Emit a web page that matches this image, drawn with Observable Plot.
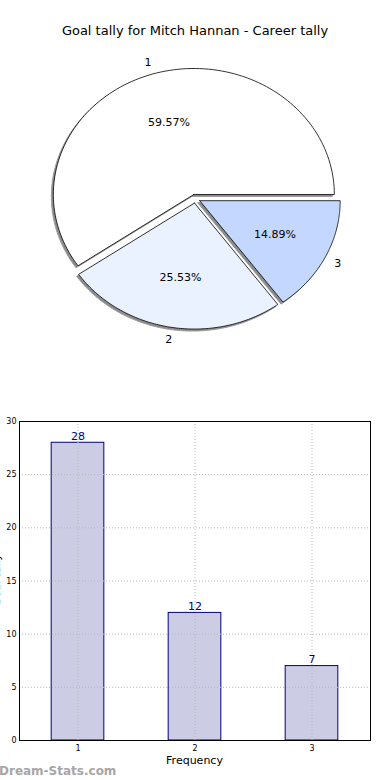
<!DOCTYPE html>
<html>
<head>
<meta charset="utf-8">
<script src="https://cdn.jsdelivr.net/npm/d3@7"></script>
<script src="https://cdn.jsdelivr.net/npm/@observablehq/plot@0.6"></script>
<style>
  html, body { margin: 0; padding: 0; background: #fff; }
  #wrap { position: relative; width: 390px; height: 780px; overflow: hidden; font-family: "DejaVu Sans", sans-serif; }
  #wrap svg { position: absolute; left: 0; }
  .abs { position: absolute; white-space: nowrap; }
</style>
</head>
<body>
<div id="wrap"></div>
<script>
// ---- data ----
const title = "Goal tally for Mitch Hannan - Career tally";
const categories = [1, 2, 3];
const goals = [28, 12, 7];
const sliceColors = ["#ffffff", "#eaf1ff", "#c4d8ff"];
const xLabel = "Frequency";
const yLabel = "Goal tally";
const yTicks = [0, 5, 10, 15, 20, 25, 30];
const watermark = "Dream-Stats.com";

const wrap = document.getElementById("wrap");

// ---- title ----
const t = document.createElement("div");
t.className = "abs";
t.textContent = title;
t.style.cssText = "left:0;width:390px;text-align:center;top:23px;font-size:13px;color:#000;";
wrap.appendChild(t);

// ---- pie geometry from data ----
const total = d3.sum(goals);
const explode = 0.035;
const slices = [];
let cum = 0;
goals.forEach((v, i) => {
  const a0 = 2 * Math.PI * cum / total;
  const a1 = 2 * Math.PI * (cum + v) / total;
  cum += v;
  const mid = (a0 + a1) / 2;
  const cx = explode * Math.cos(mid), cy = explode * Math.sin(mid);
  const pts = [{x: cx, y: cy}];
  const n = 120;
  for (let k = 0; k <= n; k++) {
    const a = a0 + (a1 - a0) * k / n;
    pts.push({x: cx + Math.cos(a), y: cy + Math.sin(a)});
  }
  pts.push({x: cx, y: cy});
  slices.push({
    cat: categories[i], value: v, pts, color: sliceColors[i],
    lx: cx + 1.1 * Math.cos(mid), ly: cy + 1.1 * Math.sin(mid),
    px: cx + 0.6 * Math.cos(mid), py: cy + 0.6 * Math.sin(mid),
    pct: (100 * v / total).toFixed(2) + "%"
  });
});

const pieW = 390, pieH = 390;
const cxPix = 194.8, cyPix = 198.2, rx = 140.5, ry = 126;
const pieMarks = [];
slices.forEach(s => {
  pieMarks.push(Plot.line(s.pts, {x: "x", y: "y", fill: "#8c8c8c", stroke: "#9a9a9a", strokeWidth: 1, dx: -2, dy: 2}));
});
slices.forEach(s => {
  pieMarks.push(Plot.line(s.pts, {x: "x", y: "y", fill: s.color, stroke: "#000", strokeWidth: 0.8}));
});
pieMarks.push(Plot.text(slices, {x: "px", y: "py", text: "pct", fontSize: 11, fill: "#000"}));
pieMarks.push(Plot.text(slices, {x: "lx", y: "ly", text: d => String(d.cat), fontSize: 11, fill: "#000",
  textAnchor: d => d.lx < 0 ? "end" : "start"}));

const pie = Plot.plot({
  width: pieW, height: pieH,
  margin: 0,
  style: {fontFamily: "DejaVu Sans, sans-serif", background: "transparent"},
  x: {domain: [-cxPix / rx, (pieW - cxPix) / rx], axis: null},
  y: {domain: [-(pieH - cyPix) / ry, cyPix / ry], axis: null},
  marks: pieMarks
});
pie.style.top = "0px";
wrap.appendChild(pie);

// ---- bar chart ----
const bars = categories.map((c, i) => ({cat: c, goals: goals[i]}));
const bw = 0.45;
const bar = Plot.plot({
  width: 390, height: 390,
  marginTop: 31, marginBottom: 40, marginLeft: 19, marginRight: 20,
  style: {fontFamily: "DejaVu Sans, sans-serif", fontSize: "8px", background: "transparent", color: "#000"},
  x: {domain: [0.5, 3.5], ticks: categories, tickFormat: d => String(d), tickSize: 0, tickPadding: 5, label: null},
  y: {domain: [0, 30], ticks: yTicks, tickSize: 0, tickPadding: 3, label: null},
  marks: [
    Plot.rect(bars, {x1: d => d.cat - bw / 2, x2: d => d.cat + bw / 2, y1: 0, y2: "goals", fill: "#ccccE4", stroke: "#000080", strokeWidth: 1}),
    Plot.ruleY(yTicks.slice(1, -1), {stroke: "#b8b8b8", strokeWidth: 1, strokeDasharray: "1,2"}),
    Plot.ruleX(categories, {stroke: "#b8b8b8", strokeWidth: 1, strokeDasharray: "1,2"}),
    Plot.text(bars, {x: "cat", y: "goals", text: d => String(d.goals), fill: "#000080", fontSize: 11, lineAnchor: "bottom", dy: -3}),
    Plot.frame({stroke: "#000", strokeWidth: 1})
  ]
});
bar.style.top = "390px";
wrap.appendChild(bar);

// ---- axis labels & watermark ----
const xl = document.createElement("div");
xl.className = "abs";
xl.textContent = xLabel;
xl.style.cssText = "left:19px;width:351px;text-align:center;top:754px;font-size:11px;color:#000;";
wrap.appendChild(xl);

const yl = document.createElement("div");
yl.className = "abs";
yl.textContent = yLabel;
yl.style.cssText = "left:-43px;top:573px;width:80px;text-align:center;font-size:11px;color:#000;transform:rotate(-90deg);transform-origin:40px 7px;";
wrap.appendChild(yl);

const wm = document.createElement("div");
wm.className = "abs";
wm.textContent = watermark;
wm.style.cssText = "left:-1px;top:764px;font-size:12px;font-weight:bold;color:#a6a6a6;";
wrap.appendChild(wm);
</script>
</body>
</html>
